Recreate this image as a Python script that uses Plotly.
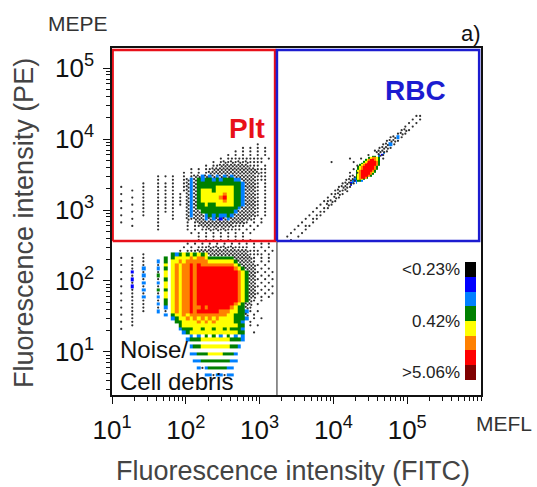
import plotly.graph_objects as go

FONT = "Liberation Sans, Arial, Helvetica, sans-serif"

# ---------------- axes ----------------
X_TICK_VALUES = [1e1, 1e2, 1e3, 1e4, 1e5]
X_TICK_TEXT = ["10<sup>1</sup>", "10<sup>2</sup>", "10<sup>3</sup>", "10<sup>4</sup>", "10<sup>5</sup>"]
Y_TICK_VALUES = [1e1, 1e2, 1e3, 1e4, 1e5]
Y_TICK_TEXT = ["10<sup>1</sup>", "10<sup>2</sup>", "10<sup>3</sup>", "10<sup>4</sup>", "10<sup>5</sup>"]
X_RANGE_DECADES = [1.0, 6.0]
Y_RANGE_DECADES = [0.394, 5.282]

# ---------------- density colour bands (1 = highest density) ----------------
DENSITY_CODES = "droygcbk"
DENSITY_COLORS = ["#800000", "#ff0000", "#ff8000", "#ffff00",
                  "#008000", "#0080ff", "#0000ff", "#000000"]
LEGEND_TEXT = ["<0.23%", "0.42%", ">5.06%"]
LEGEND_LEVEL = [8, 4.5, 1]

# ---------------- gates ----------------
PLT_GATE_X = [10.2, 1620]
PLT_GATE_Y = [367, 179900]
RBC_GATE_X = [1718, 944000]
RBC_GATE_Y = [367, 179900]
QUAD_LINE_X = [1718, 1718]
QUAD_LINE_Y = [2.4, 367]

# ---------------- density maps ----------------
# cells: (row from top, first column, codes);  '.' sparse events, ':' denser events,
# letters = density band (k b c g y o r d)
STRIPES = "yoyoororrr"
NOISE = dict(x0=1.05, ytop=2.60, step=0.05, ncols=43, nrows=42, cells=[
    (0, 22, ". . . . . . . ."),
    (1, 19, ". . . . . . . . . . . ."),
    (2, 18, ". . "), (2, 22, "...:.:.:.:..."), (2, 35, ". . . ."),
    (3, 17, ". ."), (3, 20, "..::::::::::::::.."), (3, 38, ". . ."),
    (4, 7, "."), (4, 15, "gcgygygygy"), (4, 25, "::::::::::"), (4, 35, ":..."), (4, 39, ". ."),
    (5, 1, "."), (5, 4, "."), (5, 7, "."), (5, 13, "g"), (5, 15, "gyyyyoyooy"), (5, 25, "ggggggg"), (5, 32, ":::::"), (5, 37, ". . ."),
    (6, 4, "."), (6, 7, "."), (6, 11, "c"), (6, 13, "g"), (6, 15, "yyoyoooooo"), (6, 25, "yyyyyyy"), (6, 32, "g"), (6, 33, "::::"), (6, 37, ". . ."),
    (7, 1, "."), (7, 4, "."), (7, 7, "."), (7, 11, "."), (7, 13, "y"), (7, 15, "yoyoororoo"), (7, 25, "ooooooo"), (7, 32, "y"), (7, 33, "g"), (7, 34, "::::"), (7, 38, ". ."),
    (8, 4, "."), (8, 7, "c"), (8, 11, "c"), (8, 13, "g"), (8, 15, STRIPES), (8, 25, "rrrrrrr"), (8, 32, "o"), (8, 33, "y"), (8, 34, "g"), (8, 35, ":::"), (8, 39, ". ."),
    (9, 1, "."), (9, 4, "b"), (9, 7, "."), (9, 11, "."), (9, 13, "y"), (9, 15, STRIPES), (9, 25, "rrrrrrrr"), (9, 33, "o"), (9, 34, "y"), (9, 35, "g"), (9, 36, "::"), (9, 38, ". . ."),
    (10, 4, "."), (10, 7, "c"), (10, 11, "g"), (10, 13, "y"), (10, 15, STRIPES), (10, 25, "rrrrrrrr"), (10, 33, "o"), (10, 34, "y"), (10, 35, "g"), (10, 36, "::"), (10, 39, ". ."),
    (11, 1, "."), (11, 4, "b"), (11, 7, "."), (11, 11, "."), (11, 13, "g"), (11, 15, STRIPES), (11, 25, "rrrrrrrr"), (11, 33, "o"), (11, 34, "y"), (11, 35, "g"), (11, 36, "::"), (11, 38, ". . ."),
    (12, 4, "."), (12, 7, "c"), (12, 11, "c"), (12, 13, "y"), (12, 15, STRIPES), (12, 25, "rrrrrrrr"), (12, 33, "o"), (12, 34, "y"), (12, 35, "g"), (12, 36, "::"), (12, 39, ". ."),
    (13, 1, "."), (13, 4, "b"), (13, 7, "."), (13, 11, "."), (13, 13, "y"), (13, 15, STRIPES), (13, 25, "rrrrrrrr"), (13, 33, "o"), (13, 34, "y"), (13, 35, "g"), (13, 36, "::"), (13, 38, ". . ."),
    (14, 4, "."), (14, 7, "c"), (14, 11, "g"), (14, 13, "g"), (14, 15, STRIPES), (14, 25, "rrrrrrrr"), (14, 33, "o"), (14, 34, "y"), (14, 35, "g"), (14, 36, "::"), (14, 39, ". ."),
    (15, 1, "."), (15, 4, "."), (15, 7, "."), (15, 11, "."), (15, 13, "y"), (15, 15, STRIPES), (15, 25, "rrrrrrrr"), (15, 33, "o"), (15, 34, "y"), (15, 35, "g"), (15, 36, "::"), (15, 38, ". . ."),
    (16, 4, "."), (16, 7, "c"), (16, 11, "c"), (16, 13, "y"), (16, 15, STRIPES), (16, 25, "rrrrrrrr"), (16, 33, "o"), (16, 34, "y"), (16, 35, "g"), (16, 36, "::"), (16, 39, ". ."),
    (17, 1, "."), (17, 4, "."), (17, 7, "."), (17, 11, "."), (17, 13, "g"), (17, 15, STRIPES), (17, 25, "rrrrrrrr"), (17, 33, "o"), (17, 34, "y"), (17, 35, "g"), (17, 36, ":"), (17, 37, ". ."),
    (18, 4, "."), (18, 7, "."), (18, 11, "c"), (18, 13, "g"), (18, 15, STRIPES), (18, 25, "rrrrrrr"), (18, 32, "o"), (18, 33, "y"), (18, 34, "g"), (18, 35, "::"), (18, 38, "."),
    (19, 1, "."), (19, 4, "."), (19, 7, "."), (19, 11, "."), (19, 13, "c"), (19, 15, "yoyoorooro"), (19, 25, "rrrrrr"), (19, 31, "o"), (19, 32, "y"), (19, 33, "gg"), (19, 35, ":."),
    (20, 4, "."), (20, 7, "."), (20, 11, "c"), (20, 13, "."), (20, 15, "yoyooro" + "rrrrrr" + "oooyyggc"), (20, 36, ". ."),
    (21, 1, "."), (21, 4, "."), (21, 13, "c"), (21, 15, "gyyoy" + "oooooooooo" + "yyggg:"), (21, 37, "."),
    (22, 4, "."), (22, 15, "cg" + "yyoy" + "oyoyoyo" + "yyyy" + "gggc"), (22, 37, ". ."),
    (23, 1, "."), (23, 4, "."), (23, 16, "gg" + "yyyyoyoyoyyyyy" + "ggc"), (23, 36, "."),
    (24, 4, "."), (24, 17, "g" + "yyyyyyyyyyyyyyy" + "gg"), (24, 36, ". ."),
    (25, 1, "."), (25, 17, "cgg" + "gyygyygyygyg" + "ggc"),
    (26, 18, "cg" + "yyyyyyyyyyyyy" + "gg"), (26, 37, "."),
    (27, 20, "c c g g c g c c"),
    (28, 19, "cggg" + "yyyyyyyy" + "gggc"),
    (30, 20, "cgg" + "yyyyyyyy" + "ggc"),
    (32, 20, "ccgggyyyygggc"),
    (34, 21, "ccggggggggcc"),
    (36, 22, "c.cgggggcc"),
    (38, 24, "cc.cc.cc"),
])

PLT = dict(x0=1.05, ytop=3.95, step=0.05, ncols=43, nrows=27, cells=[
    (0, 38, "."),
    (1, 34, ". . ."), (1, 40, "."),
    (2, 32, ". . . . ."),
    (3, 30, ". . . . . ."),
    (4, 28, ". .........."), (4, 41, "."),
    (5, 26, ". .:.:.:.:...."),
    (6, 24, ". ..::::::::..."), (6, 40, "."),
    (7, 20, ". . ..::::::::::::..."),
    (8, 18, ". . . .::::::::::::::.."),
    (9, 11, "."), (9, 13, "."), (9, 15, "."), (9, 18, ". .::c:c:c:c:c::::::..."),
    (10, 11, "."), (10, 15, "."), (10, 18, ".:c:gcggcgcgggcc::::..."),
    (11, 7, "."), (11, 11, "."), (11, 13, "."), (11, 15, "."), (11, 18, ".:c:g" + "ggggggggggg" + "c:::. ."),
    (12, 1, "."), (12, 7, "."), (12, 11, "."), (12, 13, "."), (12, 15, "."), (12, 18, ".:c:g" + "gggg" + "yyyyy" + "ggc:::. ."),
    (13, 4, "."), (13, 7, "."), (13, 11, "."), (13, 13, "."), (13, 15, "."), (13, 18, "."), (13, 19, ":c:gyyygyyyyyggc:::. ."),
    (14, 1, "."), (14, 7, "."), (14, 11, "."), (14, 13, "."), (14, 15, "."), (14, 17, "."), (14, 19, ":c:gyyyyyyoyyggc:::. ."),
    (15, 4, "."), (15, 7, "."), (15, 11, "."), (15, 13, "."), (15, 15, "."), (15, 17, "."), (15, 19, ":c:gyyyyyoryyggc:::. ."),
    (16, 1, "."), (16, 7, "."), (16, 11, "."), (16, 13, "."), (16, 15, "."), (16, 17, "."), (16, 19, ":c:gyyyyyyoyyggc:::. ."),
    (17, 4, "."), (17, 7, "."), (17, 11, "."), (17, 13, "."), (17, 15, "."), (17, 17, "."), (17, 19, ":c:ggyggyyyyyggc:::. ."),
    (18, 1, "."), (18, 7, "."), (18, 11, "."), (18, 13, "."), (18, 15, "."), (18, 19, ":c:" + "ggggggggggg" + "c::::. ."),
    (19, 4, "."), (19, 7, "."), (19, 11, "."), (19, 13, "."), (19, 15, "."), (19, 19, ":c::gggggggggc:::::. ."),
    (20, 1, "."), (20, 7, "."), (20, 11, "."), (20, 15, "."), (20, 19, ":c:::cgcgccgc::::::. ."),
    (21, 4, "."), (21, 11, "."), (21, 15, "."), (21, 19, ":.:::c:c:b:c::::::. ."),
    (22, 1, "."), (22, 11, "."), (22, 19, ". .:::::::::::::. . ."),
    (23, 4, "."), (23, 11, "."), (23, 19, ". ..:::::::::... . ."),
    (24, 11, "."), (24, 19, ". . ..:.:.:.... . ."),
    (25, 20, ". . . . . . . . ."),
    (26, 22, ". . . . . . ."),
])

RBC_CORE = dict(x0=4.225, ytop=3.82, step=0.025, ncols=20, nrows=20, cells=[
    (0, 18, "c"),
    (1, 15, "c b"),
    (2, 12, "gg"), (2, 15, "c"),
    (3, 10, "gyooyg"),
    (4, 8, "gyorroyg"),
    (5, 7, "gyorrrrog"),
    (6, 6, "gyorrrrrog"),
    (7, 5, "gyorrrrrrog"),
    (8, 4, "gyorrrrrrog"),
    (9, 4, "gyorrrrrrog"),
    (10, 3, "gyorrrrrrog"),
    (11, 3, "gyorrrrroyg"),
    (12, 3, "gyorrrrrog"),
    (13, 3, "gyorrrrog"),
    (14, 2, "cgyorrog"),
    (15, 1, "ccgyoyg"),
    (16, 1, "cbcggc"),
    (17, 0, "bc c"),
    (18, 0, "b"),
])

RBC_TAIL = dict(x0=3.35, ytop=4.35, step=0.05, ncols=37, nrows=36, cells=[
    (0, 35, ".."), (1, 34, ". ."), (2, 33, ". ."), (3, 32, ". ."), (4, 31, ".:."),
    (5, 30, ".:."), (6, 28, ".:c."), (7, 27, ".::."), (8, 26, ".:c."), (9, 25, ".::."),
    (10, 24, ":::."), (11, 22, ".  :."), (12, 17, "."), (12, 20, "."), (12, 26, "."),
    (13, 12, "."), (13, 18, "."), (14, 19, "."), (15, 18, "."), (16, 17, ". ."),
    (17, 17, ".:"), (18, 16, ".::"), (19, 15, ".::."), (20, 14, ".::."), (21, 13, ".:.:"),
    (22, 12, "..:."), (23, 11, ". :."), (24, 10, "..:."), (25, 9, ". :."), (26, 8, ". .."),
    (27, 7, ". .."), (28, 6, ". .."), (29, 5, ". .."), (30, 4, ".  ."), (31, 3, ". .."),
    (32, 2, ".  ."), (33, 1, ".  ."), (34, 0, ".  ."), (35, 1, "."),
])

# ---------------- build traces ----------------
COLORSCALE = []
for i, col in enumerate(DENSITY_COLORS):
    COLORSCALE += [[i / 8, col], [(i + 1) / 8, col]]

PLOT_L, PLOT_R, PLOT_T, PLOT_B = 112, 481, 48, 395
PW, PH = PLOT_R - PLOT_L, PLOT_B - PLOT_T


def px(x):
    return (x - PLOT_L) / PW


def py(y):
    return (PLOT_B - y) / PH


def grid_traces(g, show_scale=False):
    nr, nc, s = g["nrows"], g["ncols"], g["step"]
    z = [[None] * nc for _ in range(nr)]
    dx, dy = [], []
    for r, c, seg in g["cells"]:
        for k, ch in enumerate(seg):
            col = c + k
            if col >= nc or r >= nr:
                continue
            cx = g["x0"] + s * (col + 0.5)
            cy = g["ytop"] - s * (r + 0.5)
            if ch in DENSITY_CODES:
                z[r][col] = DENSITY_CODES.index(ch) + 1
            elif ch == ".":
                dx.append(10 ** cx)
                dy.append(10 ** cy)
            elif ch == ":":
                for ox, oy in ((-0.25, 0.22), (0.25, -0.22)):
                    dx.append(10 ** (cx + ox * s))
                    dy.append(10 ** (cy + oy * s))
    xe = [10 ** (g["x0"] + s * k) for k in range(nc + 1)]
    ye = [10 ** (g["ytop"] - s * (nr - k)) for k in range(nr + 1)]
    hm = go.Heatmap(
        x=xe, y=ye, z=z[::-1], zmin=0.5, zmax=8.5, colorscale=COLORSCALE,
        zsmooth=False, hoverinfo="skip", showscale=show_scale,
        colorbar=dict(x=px(465), xanchor="left", y=py(380), yanchor="bottom",
                      len=118, lenmode="pixels", thickness=11, thicknessmode="pixels",
                      outlinewidth=0, showticklabels=False, ticks="", xpad=0, ypad=0),
    )
    sc = go.Scatter(x=dx, y=dy, mode="markers", hoverinfo="skip",
                    marker=dict(size=2.2, color="#303030", line=dict(width=0)))
    return [hm, sc]


fig = go.Figure()
for i, g in enumerate([NOISE, PLT, RBC_TAIL, RBC_CORE]):
    for t in grid_traces(g, show_scale=(i == 0)):
        fig.add_trace(t)


def rect(xs, ys):
    return [xs[0], xs[1], xs[1], xs[0], xs[0]], [ys[0], ys[0], ys[1], ys[1], ys[0]]


qx, qy = QUAD_LINE_X, QUAD_LINE_Y
fig.add_trace(go.Scatter(x=qx, y=qy, mode="lines", line=dict(color="#555555", width=1.3), hoverinfo="skip"))
gx, gy = rect(PLT_GATE_X, PLT_GATE_Y)
fig.add_trace(go.Scatter(x=gx, y=gy, mode="lines", line=dict(color="#e8101a", width=2.5), hoverinfo="skip"))
gx, gy = rect(RBC_GATE_X, RBC_GATE_Y)
fig.add_trace(go.Scatter(x=gx, y=gy, mode="lines", line=dict(color="#1c1cd0", width=2.5), hoverinfo="skip"))

axis_common = dict(
    type="log", tickmode="array", ticks="outside", ticklen=7, tickwidth=1.2, tickcolor="#111",
    showline=True, linecolor="#111", linewidth=1.5, mirror=True, showgrid=False, zeroline=False,
    tickfont=dict(size=26, family=FONT, color="#111"),
    minor=dict(ticks="outside", ticklen=4, tickwidth=1, tickcolor="#111", dtick="D1", showgrid=False),
)
fig.update_xaxes(range=X_RANGE_DECADES, tickvals=X_TICK_VALUES, ticktext=X_TICK_TEXT,
                 ticklabelstandoff=4, **axis_common)
fig.update_yaxes(range=Y_RANGE_DECADES, tickvals=Y_TICK_VALUES, ticktext=Y_TICK_TEXT,
                 ticklabelstandoff=4, **axis_common)

ann = []


def add_text(text, x, y, size, color, bold=False, xanchor="center", yanchor="middle", angle=0):
    ann.append(dict(text=("<b>%s</b>" % text) if bold else text, x=px(x), y=py(y), xref="paper", yref="paper",
                    xanchor=xanchor, yanchor=yanchor, showarrow=False, textangle=angle,
                    font=dict(family=FONT, size=size, color=color)))


add_text("Plt", 247, 128, 28, "#e8101a", bold=True)
add_text("RBC", 415, 90, 28, "#1c1cd0", bold=True)
add_text("Noise/", 118, 349, 24, "#111", xanchor="left")
add_text("Cell debris", 118, 381, 24, "#111", xanchor="left")
add_text("MEPE", 78, 24, 21, "#333")
add_text("MEFL", 504, 423, 21, "#333")
add_text("a)", 471, 34, 22, "#111")
add_text("Fluorescence intensity (FITC)", 293, 471, 27, "#444")
add_text("Fluorescence intensity (PE)", 24, 223, 27, "#444", angle=-90)

bar_bottom, bar_len = 380, 118
for txt, lvl in zip(LEGEND_TEXT, LEGEND_LEVEL):
    ypix = bar_bottom - (lvl - 0.5) / 8 * bar_len
    add_text(txt, 462, ypix, 17, "#222", xanchor="right")

fig.update_layout(
    width=537, height=487, margin=dict(l=PLOT_L, r=537 - PLOT_R, t=PLOT_T, b=487 - PLOT_B),
    paper_bgcolor="white", plot_bgcolor="white", showlegend=False, annotations=ann,
)

fig.write_html("out.html", config={"displayModeBar": False},
               post_script="document.body.style.margin='0';document.body.style.overflow='hidden';")
